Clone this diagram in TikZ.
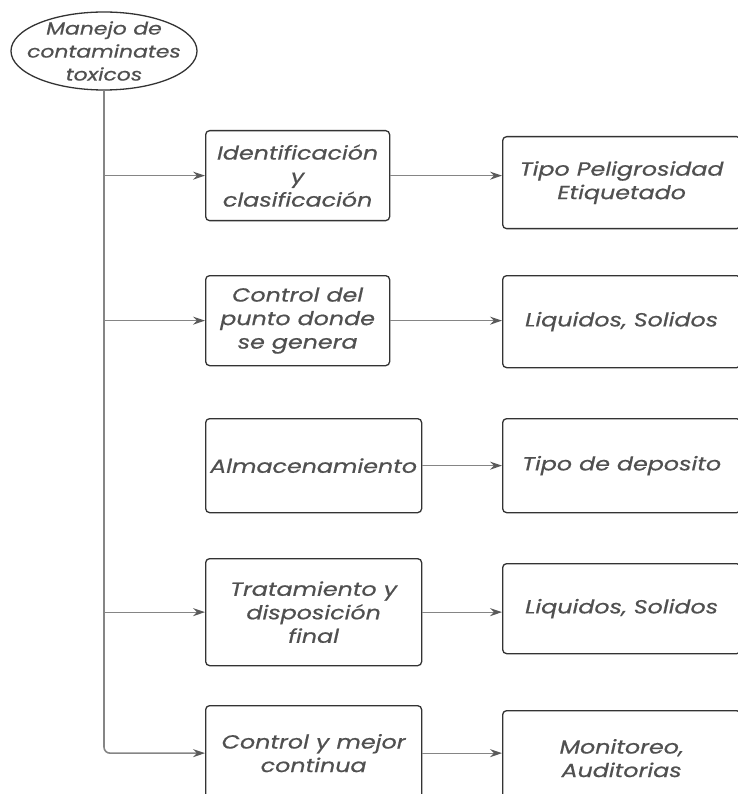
\documentclass[tikz,border=0pt]{standalone}
\usepackage{fontspec}
\setmainfont{Poppins}[FakeStretch=1.25,FakeBold=0.6]
\usetikzlibrary{arrows.meta,shapes.geometric}
\definecolor{txt}{HTML}{505050}
\definecolor{edge}{HTML}{333333}
\definecolor{wirec}{HTML}{858585}
\definecolor{tipc}{HTML}{5A5A5A}
\tikzset{
  lbl/.style={align=center, text=txt, font=\itshape\fontsize{19}{23.5}\selectfont, inner sep=0pt},
  box/.style={lbl, draw=edge, line width=1.3pt, rounded corners=4pt, anchor=north west},
  oval/.style={ellipse, draw=edge, line width=1.3pt, minimum width=186pt, minimum height=78pt, inner sep=0pt},
  wire/.style={draw=wirec, line width=1.3pt,
    -{Stealth[length=12pt,width=8pt,fill=tipc,color=tipc]}},
  trunk/.style={draw=wirec, line width=1.6pt, rounded corners=6pt,
    -{Stealth[length=12pt,width=8pt,fill=tipc,color=tipc]}}
}
\begin{document}
\begin{tikzpicture}[x=1pt,y=-1pt]
\useasboundingbox (0,0) rectangle (737,794);
\node[oval, label={[lbl, font=\itshape\fontsize{17.5}{23}\selectfont]center:Manejo de\\contaminates\\toxicos}] (top) at (104,51) {};
% left column
\node[box, minimum width=184pt, minimum height=90pt] (b1) at (205,130) {Identificación\\y\\clasificación};
\node[box, minimum width=184pt, minimum height=90pt] (b2) at (205,275) {Control del\\punto donde\\se genera};
\node[box, minimum width=216pt, minimum height=94pt] (b3) at (205,418) {Almacenamiento};
\node[box, minimum width=216pt, minimum height=107pt] (b4) at (205,558) {Tratamiento y\\disposición\\final};
\node[box, minimum width=216pt, minimum height=95pt] (b5) at (205,705) {Control y mejor\\continua};
% right column
\node[box, minimum width=238pt, minimum height=92pt] (t1) at (502,136) {Tipo Peligrosidad\\Etiquetado};
\node[box, minimum width=238pt, minimum height=92pt] (t2) at (502,275) {Liquidos, Solidos};
\node[box, minimum width=238pt, minimum height=94pt] (t3) at (502,418) {Tipo de deposito};
\node[box, minimum width=238pt, minimum height=90pt] (t4) at (502,563) {Liquidos, Solidos};
\node[box, minimum width=238pt, minimum height=95pt] (t5) at (502,710) {Monitoreo,\\Auditorias};
% trunk
\draw[trunk] (top.south) |- (b5.west);
\coordinate (j1) at (top.south |- b1.west);
\coordinate (j2) at (top.south |- b2.west);
\coordinate (j4) at (top.south |- b4.west);
\draw[wire] (j1) -- (b1.west);
\draw[wire] (j2) -- (b2.west);
\draw[wire] (j4) -- (b4.west);
% box to box
\draw[wire] (b1.east) -- (b1.east -| t1.west);
\draw[wire] (b2.east) -- (b2.east -| t2.west);
\draw[wire] (b3.east) -- (b3.east -| t3.west);
\draw[wire] (b4.east) -- (b4.east -| t4.west);
\draw[wire] (b5.east) -- (b5.east -| t5.west);
\end{tikzpicture}
\end{document}
